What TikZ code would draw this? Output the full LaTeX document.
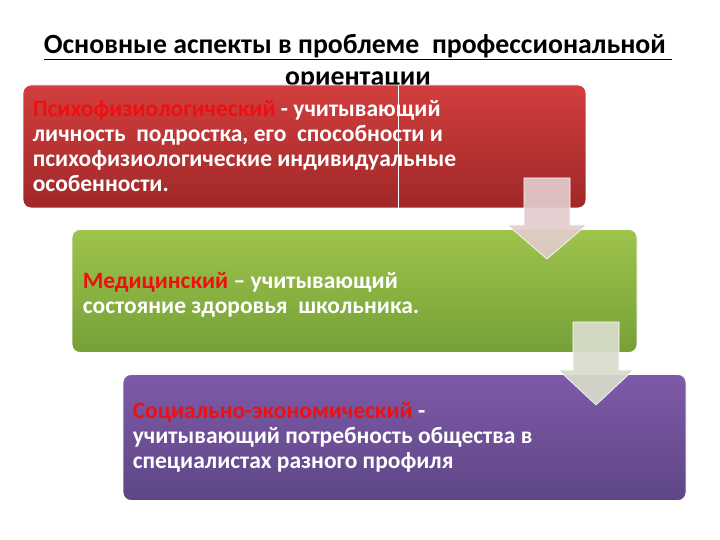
\documentclass[tikz,border=0pt]{standalone}
\usepackage{fontspec}
\setmainfont{Carlito}
\definecolor{redtop}{HTML}{D23E3E}
\definecolor{redbot}{HTML}{A02828}
\definecolor{greentop}{HTML}{9EC44C}
\definecolor{greenbot}{HTML}{76A038}
\definecolor{purptop}{HTML}{7E5AA8}
\definecolor{purpbot}{HTML}{5E4686}
\definecolor{hot}{HTML}{EE1010}
\definecolor{arrowpink}{HTML}{E2CCCC}
\definecolor{arrowgrey}{HTML}{D8DDCB}
\tikzset{
  box/.style={rectangle, rounded corners=8pt, draw=white, line width=0.8pt, inner sep=0pt},
  bodytext/.style={anchor=west, align=left, inner sep=0pt, text=white,
     font=\fontsize{23.5}{25}\selectfont\bfseries},
  titletext/.style={align=center, inner sep=0pt, text=black,
     font=\fontsize{27.8}{32}\selectfont\bfseries},
  arrowbody/.style={draw=white, line width=0.6pt, fill opacity=0.92}
}
\begin{document}
\begin{tikzpicture}[x=1pt,y=-1pt]
\useasboundingbox[fill=white] (0,0) rectangle (720,540);
% title
\node[titletext] (title) at (358,62) {\underline{Основные аспекты в проблеме\ \ профессиональной\ }\\ ориентации};
% boxes
\node[box, top color=redtop, bottom color=redbot, minimum width=563pt, minimum height=123pt] (red) at (304.5,146.5) {};
\draw[white, line width=0.7pt] (red.north -| 398,0) -- (red.south -| 398,0);
\node[bodytext] (redtext) at ([xshift=10pt]red.west) {\textcolor{hot}{Психофизиологический} - учитывающий\\
личность\ \ подростка, его\ \ способности и\\
психофизиологические индивидуальные\\
особенности.};
\node[box, top color=greentop, bottom color=greenbot, minimum width=565pt, minimum height=123pt] (green) at (354.5,291) {};
\node[bodytext] (greentext) at ([xshift=11pt,yshift=-4pt]green.west) {\textcolor{hot}{Медицинский} – учитывающий\\
состояние здоровья\ \ школьника.};
\node[box, top color=purptop, bottom color=purpbot, minimum width=563pt, minimum height=126pt] (purple) at (404.5,437.5) {};
\node[bodytext] (purpletext) at ([xshift=10pt]purple.west) {\textcolor{hot}{Социально-экономический} -\\
учитывающий потребность общества в\\
специалистах разного профиля};
% arrows
\path[arrowbody, fill=arrowpink] (524,178) -- (570,178) -- (570,225) -- (586.5,225) -- (547,259) -- (507.5,225) -- (524,225) -- cycle;
\path[arrowbody, fill=arrowgrey] (573,322) -- (619,322) -- (619,370) -- (633.5,370) -- (596,405) -- (558.5,370) -- (573,370) -- cycle;
\end{tikzpicture}
\end{document}
